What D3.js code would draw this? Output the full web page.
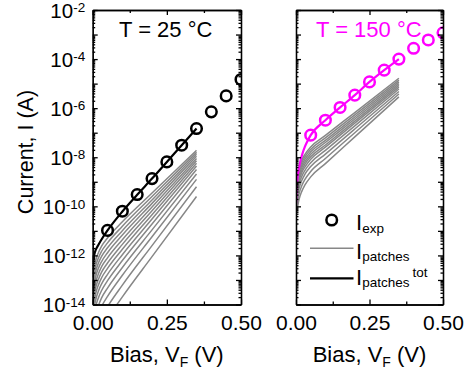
<!DOCTYPE html>
<html><head><meta charset="utf-8">
<script src="https://cdn.jsdelivr.net/npm/d3@7"></script>
<style>
body{margin:0;background:#fff}
text{font-family:"Liberation Sans",Arial,Helvetica,sans-serif;fill:#000}
</style>
</head><body>
<svg id="chart" width="467" height="369"></svg>
<script>
// ---------- DATA (currents given as log10(I / A)) ----------
const biasExp = [0.05, 0.10, 0.15, 0.20, 0.25, 0.30, 0.35, 0.40, 0.45, 0.50];
const logIexp25  = [-10.98, -10.20, -9.52, -8.87, -8.19, -7.51, -6.83, -6.15, -5.50, -4.83];
const logIexp150 = [-7.10, -6.49, -5.97, -5.47, -4.93, -4.45, -4.00, -3.56, -3.22, -2.93];

const biasTot25 = [0, 0.001, 0.003, 0.008, 0.018, 0.035, 0.05, 0.10, 0.15, 0.20, 0.25, 0.30, 0.35];
const logTot25  = [-12.9, -12.5, -12.15, -11.85, -11.6, -11.25, -10.98, -10.21, -9.53, -8.87, -8.19, -7.51, -6.83];

const biasTot150 = [0, 0.002, 0.005, 0.01, 0.014, 0.022, 0.03, 0.04, 0.05, 0.10, 0.15, 0.20, 0.25, 0.30, 0.35];
const logTot150  = [-9.9, -9.3, -8.85, -8.45, -8.2, -7.85, -7.58, -7.32, -7.10, -6.49, -5.97, -5.47, -4.93, -4.45, -4.00];

const biasPatch25 = [0.0005, 0.002, 0.005, 0.01, 0.02, 0.03, 0.05, 0.10, 0.20, 0.35];
const logPatches25 = [
  [-13.57, -12.96, -12.55, -12.22, -11.87, -11.62, -11.29, -10.63, -9.46, -7.72],
  [-13.79, -13.18, -12.77, -12.44, -12.08, -11.83, -11.49, -10.81, -9.60, -7.80],
  [-14.01, -13.40, -12.99, -12.66, -12.29, -12.04, -11.69, -10.99, -9.74, -7.88],
  [-14.23, -13.61, -13.21, -12.87, -12.50, -12.25, -11.89, -11.17, -9.88, -7.96],
  [-14.46, -13.84, -13.43, -13.10, -12.73, -12.46, -12.10, -11.36, -10.03, -8.05],
  [-14.69, -14.07, -13.66, -13.32, -12.95, -12.68, -12.31, -11.55, -10.18, -8.14],
  [-14.93, -14.31, -13.90, -13.56, -13.18, -12.91, -12.53, -11.75, -10.34, -8.24],
  [-15.19, -14.57, -14.16, -13.82, -13.43, -13.16, -12.77, -11.97, -10.52, -8.36],
  [-15.47, -14.85, -14.44, -14.09, -13.70, -13.43, -13.03, -12.21, -10.72, -8.50],
  [-15.79, -15.17, -14.75, -14.41, -14.02, -13.73, -13.33, -12.49, -10.96, -8.68],
  [-16.15, -15.53, -15.11, -14.76, -14.37, -14.08, -13.67, -12.81, -11.24, -8.90],
  [-16.59, -15.97, -15.55, -15.20, -14.80, -14.51, -14.09, -13.21, -11.60, -9.20],
  [-17.10, -16.47, -16.05, -15.70, -15.30, -15.01, -14.58, -13.69, -12.05, -9.60]
];

const biasPatch150 = [0, 0.005, 0.01, 0.02, 0.03, 0.05, 0.10, 0.20, 0.35];
const logPatches150 = [
  [-9.10, -8.75, -8.45, -8.11, -7.89, -7.58, -7.11, -6.18, -4.78],
  [-9.25, -8.85, -8.56, -8.21, -7.99, -7.68, -7.21, -6.27, -4.86],
  [-9.40, -8.96, -8.66, -8.32, -8.09, -7.78, -7.31, -6.36, -4.93],
  [-9.50, -9.06, -8.76, -8.42, -8.19, -7.88, -7.40, -6.44, -5.00],
  [-9.60, -9.17, -8.87, -8.52, -8.29, -7.98, -7.50, -6.53, -5.07],
  [-9.70, -9.27, -8.97, -8.62, -8.40, -8.08, -7.59, -6.61, -5.14],
  [-9.85, -9.42, -9.12, -8.77, -8.54, -8.22, -7.72, -6.72, -5.22],
  [-10.00, -9.59, -9.29, -8.94, -8.70, -8.38, -7.87, -6.85, -5.32],
  [-10.15, -9.80, -9.50, -9.15, -8.91, -8.58, -8.05, -7.00, -5.42],
  [-10.30, -10.04, -9.74, -9.38, -9.14, -8.80, -8.26, -7.17, -5.54]
];

const xTickValues = [0, 0.25, 0.5];
const xMinorValues = [0.125, 0.375];
const yDecades = [-14, -13, -12, -11, -10, -9, -8, -7, -6, -5, -4, -3, -2];
const yLabelDecades = [-14, -12, -10, -8, -6, -4, -2];
const panelTitles = ["T = 25 °C", "T = 150 °C"];
const yAxisTitle = "Current, I (A)";
const legendNames = ["exp", "patches", "patches"];

// ---------- LAYOUT ----------
const svg = d3.select("#chart");
const yTop = 10, yBot = 304.5;
const panels = [
  {x0: 92.7, x1: 241, color: "#000000", exp: logIexp25, tot: [biasTot25, logTot25],
   patches: [biasPatch25, logPatches25], title: panelTitles[0], titleX: 119, labels: true},
  {x0: 296, x1: 443, color: "#ff00ff", exp: logIexp150, tot: [biasTot150, logTot150],
   patches: [biasPatch150, logPatches150], title: panelTitles[1], titleX: 316, labels: false}
];

const y = d3.scaleLog().domain([1e-14, 1e-2]).range([yBot, yTop]);
const minorY = [];
for (let d = -14; d < -2; d++) for (let k = 2; k <= 9; k++) minorY.push(k * Math.pow(10, d));

panels.forEach((p, i) => {
  const x = d3.scaleLinear().domain([0, 0.5]).range([p.x0, p.x1]);
  const g = svg.append("g");
  const clipId = "clip" + i;
  svg.append("clipPath").attr("id", clipId).append("rect")
    .attr("x", p.x0).attr("y", yTop).attr("width", p.x1 - p.x0).attr("height", yBot - yTop);
  const data = g.append("g").attr("clip-path", `url(#${clipId})`);

  const line = d3.line().x(d => x(d[0])).y(d => y(Math.pow(10, d[1]))).curve(d3.curveMonotoneX);

  p.patches[1].forEach(arr => {
    data.append("path").datum(p.patches[0].map((v, j) => [v, arr[j]]))
      .attr("d", line).attr("fill", "none").attr("stroke", "#878787").attr("stroke-width", 1.5);
  });
  data.append("path").datum(p.tot[0].map((v, j) => [v, p.tot[1][j]]))
    .attr("d", line).attr("fill", "none").attr("stroke", p.color).attr("stroke-width", 2.2);
  data.selectAll("circle.exp").data(biasExp.map((v, j) => [v, p.exp[j]])).enter()
    .append("circle").attr("cx", d => x(d[0])).attr("cy", d => y(Math.pow(10, d[1])))
    .attr("r", 5.3).attr("fill", "none").attr("stroke", p.color).attr("stroke-width", 2.5);

  // axes (ticks inward, mirrored)
  const ax = g.append("g").attr("class", "axes");
  const styleAxis = sel => { sel.selectAll("path,line").attr("stroke", "#000").attr("stroke-width", 1.3); sel.selectAll("text").remove(); };
  ax.append("g").attr("transform", `translate(${p.x0},0)`).call(d3.axisLeft(y).tickValues(yDecades.map(d => Math.pow(10, d))).tickSize(-5).tickSizeOuter(0).tickFormat("")).call(styleAxis);
  ax.append("g").attr("transform", `translate(${p.x0},0)`).call(d3.axisLeft(y).tickValues(minorY).tickSize(-2.5).tickSizeOuter(0).tickFormat("")).call(styleAxis);
  ax.append("g").attr("transform", `translate(${p.x1},0)`).call(d3.axisRight(y).tickValues(yDecades.map(d => Math.pow(10, d))).tickSize(-5).tickSizeOuter(0).tickFormat("")).call(styleAxis);
  ax.append("g").attr("transform", `translate(${p.x1},0)`).call(d3.axisRight(y).tickValues(minorY).tickSize(-2.5).tickSizeOuter(0).tickFormat("")).call(styleAxis);
  ax.append("g").attr("transform", `translate(0,${yTop})`).call(d3.axisTop(x).tickValues(xTickValues).tickSize(-5).tickSizeOuter(0).tickFormat("")).call(styleAxis);
  ax.append("g").attr("transform", `translate(0,${yTop})`).call(d3.axisTop(x).tickValues(xMinorValues).tickSize(-3).tickSizeOuter(0).tickFormat("")).call(styleAxis);
  ax.append("g").attr("transform", `translate(0,${yBot})`).call(d3.axisBottom(x).tickValues(xMinorValues).tickSize(-3).tickSizeOuter(0).tickFormat("")).call(styleAxis);
  const xb = ax.append("g").attr("transform", `translate(0,${yBot})`)
    .call(d3.axisBottom(x).tickValues(xTickValues).tickSize(-5).tickSizeOuter(0).tickPadding(10.5).tickFormat(d3.format(".2f")));
  xb.selectAll("path,line").attr("stroke", "#000").attr("stroke-width", 1.3);
  xb.selectAll("text").attr("font-size", 21).attr("font-family", '"Liberation Sans", Arial, sans-serif').attr("fill", "#000");

  // y tick labels
  if (p.labels) {
    yLabelDecades.forEach(d => {
      const t = svg.append("text").attr("x", p.x0 - 7.5).attr("y", y(Math.pow(10, d)) + 7.7)
        .attr("text-anchor", "end").attr("font-size", 20.5);
      t.append("tspan").text("10");
      t.append("tspan").attr("dy", -5.5).attr("font-size", 13.5).text(String(d));
    });
  }

  // panel title
  svg.append("text").attr("x", p.titleX).attr("y", 37.3).attr("font-size", 22)
    .style("fill", p.color).text(p.title);

  // x axis title
  const xt = svg.append("text").attr("x", (p.x0 + p.x1) / 2).attr("y", 362)
    .attr("text-anchor", "middle").attr("font-size", 22);
  xt.append("tspan").text("Bias, V");
  xt.append("tspan").attr("dy", 5).attr("font-size", 14).text("F");
  xt.append("tspan").attr("dy", -5).text(" (V)");
});

// y axis title
svg.append("text").attr("transform", "translate(33,152) rotate(-90)")
  .attr("text-anchor", "middle").attr("font-size", 21.5).text(yAxisTitle);

// legend (in right panel)
const lg = svg.append("g");
lg.append("circle").attr("cx", 331.7).attr("cy", 220).attr("r", 5.3)
  .attr("fill", "none").attr("stroke", "#000").attr("stroke-width", 2.5);
lg.append("line").attr("x1", 310).attr("x2", 353.5).attr("y1", 248.3).attr("y2", 248.3)
  .attr("stroke", "#878787").attr("stroke-width", 1.5);
lg.append("line").attr("x1", 310).attr("x2", 353.5).attr("y1", 278.3).attr("y2", 278.3)
  .attr("stroke", "#000").attr("stroke-width", 2.2);
const legY = [230, 258.5, 284.5];
legendNames.forEach((n, i) => {
  const t = lg.append("text").attr("x", 356).attr("y", legY[i]).attr("font-size", 22);
  t.append("tspan").text("I");
  t.append("tspan").attr("dy", 2.5).attr("font-size", 13.5).text(n);
  if (i === 2) t.append("tspan").attr("dx", 3).attr("dy", -10).attr("font-size", 13.5).text("tot");
});
</script>
</body></html>
